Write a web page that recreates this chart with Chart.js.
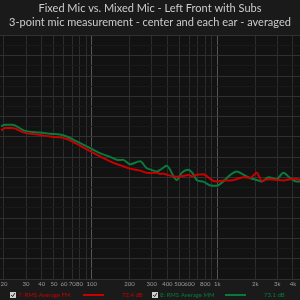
<!DOCTYPE html>
<html>
<head>
<meta charset="utf-8">
<script src="https://cdn.jsdelivr.net/npm/chart.js@4.4.1/dist/chart.umd.min.js"></script>
<style>
html, body { margin:0; padding:0; background:#1a1a1a; }
#wrap { width:300px; height:300px; }
</style>
</head>
<body>
<div id="wrap"><canvas id="fr"></canvas></div>
<script>
// frequency (Hz) and level (dB)
const freqs = [19, 20.4, 23.2, 29.4, 38.7, 46.5, 55.8, 63.2, 76, 91, 116, 140, 162, 177, 202, 242, 274, 291, 330, 350, 370, 395, 475, 521, 585, 641, 685, 769, 901, 989, 1110, 1262, 1426, 1611, 1821, 2058, 2256, 2547, 2971, 3352, 3790, 4287, 4552];
const fixedMic = [76.6, 77.2, 77.2, 76.0, 75.5, 75.1, 74.9, 74.5, 73.3, 72.0, 70.2, 69.0, 68.2, 67.8, 67.2, 66.7, 66.2, 66.1, 66.2, 65.9, 66.0, 65.7, 65.2, 65.3, 65.6, 65.3, 65.7, 65.8, 64.4, 64.0, 64.3, 64.3, 64.6, 65.1, 64.9, 66.2, 64.2, 64.6, 64.4, 64.3, 64.6, 64.7, 64.4];
const mixedMic = [77.6, 78.0, 78.0, 76.5, 76.1, 75.8, 75.6, 75.1, 73.9, 72.7, 71.0, 70.1, 69.3, 69.4, 68.3, 69.0, 67.3, 67.0, 66.5, 66.9, 67.4, 67.9, 64.4, 66.2, 66.9, 65.9, 64.4, 64.0, 63.0, 63.0, 64.0, 65.6, 66.5, 65.7, 64.9, 64.4, 64.0, 65.1, 64.6, 66.2, 64.9, 64.0, 64.0];

const gridFreqs = [20, 30, 40, 50, 60, 70, 80, 90, 100, 200, 300, 400, 500, 600, 700, 800, 900, 1000, 2000, 3000, 4000];
const tickText = {20:'20', 30:'30', 40:'40', 50:'50', 60:'60', 70:'70', 80:'80', 100:'100', 200:'200', 300:'300', 400:'400', 500:'500', 600:'600', 800:'800', 1000:'1k', 2000:'2k', 3000:'3k', 4000:'4k'};

const legendNames = ['7: RMS Average FM', '8: RMS Average MM'];
const legendLevels = ['72.4 dB', '73.1 dB'];
const lineColors = ['#c80000', '#0a7a3c'];

const frame = {
    id: 'frame',
    beforeDraw(chart){
        const {ctx, chartArea: a} = chart;
        ctx.save();
        ctx.fillStyle = '#1a1a1a';
        ctx.fillRect(0, 0, chart.width, chart.height);
        ctx.fillStyle = '#121212';
        ctx.fillRect(a.left, a.top, a.right - a.left, a.bottom - a.top);
        ctx.restore();
    },
    afterDraw(chart){
        const {ctx, chartArea: a} = chart;
        const x = chart.scales.x;
        ctx.save();
        ctx.font = '6px Lato';
        ctx.fillStyle = '#9a9a9a';
        ctx.textAlign = 'center';
        ctx.textBaseline = 'middle';
        gridFreqs.forEach(f => {
            if(tickText[f]) ctx.fillText(tickText[f], Math.max(x.getPixelForValue(f), 3), a.bottom + 5);
        });

        // legend row
        const y = 295;
        const slots = [{box: 10, text: 18, line: 83, level: 122}, {box: 152, text: 160, line: 225, level: 264}];
        slots.forEach((s, i) => {
            ctx.fillStyle = '#cfcfcf';
            ctx.fillRect(s.box, y - 3, 6, 6);
            ctx.strokeStyle = '#222';
            ctx.lineWidth = 1;
            ctx.beginPath();
            ctx.moveTo(s.box + 1.2, y);
            ctx.lineTo(s.box + 2.6, y + 1.6);
            ctx.lineTo(s.box + 4.8, y - 1.8);
            ctx.stroke();
            ctx.fillStyle = lineColors[i];
            ctx.textAlign = 'left';
            ctx.fillText(legendNames[i], s.text, y);
            ctx.fillText(legendLevels[i], s.level, y);
            ctx.strokeStyle = lineColors[i];
            ctx.lineWidth = 2;
            ctx.beginPath();
            ctx.moveTo(s.line, y);
            ctx.lineTo(s.line + 21, y);
            ctx.stroke();
        });
        ctx.restore();
    }
};

new Chart(document.getElementById('fr'), {
    type: 'line',
    data: {
        labels: freqs,
        datasets: [{
            label: legendNames[0],
            data: freqs.map((f, i) => ({x: f, y: fixedMic[i]})),
            borderColor: lineColors[0],
            borderWidth: 2,
            pointRadius: 0,
            cubicInterpolationMode: 'monotone'
        },
        {
            label: legendNames[1],
            data: freqs.map((f, i) => ({x: f, y: mixedMic[i]})),
            borderColor: lineColors[1],
            borderWidth: 2,
            pointRadius: 0,
            cubicInterpolationMode: 'monotone'
        }]
    },
    options: {
        responsive: true,
        maintainAspectRatio: false,
        animation: false,
        layout: { padding: { left: 0, right: 0, top: 0, bottom: 21 } },
        plugins: {
            legend: { display: false },
            tooltip: { enabled: false },
            title: {
                display: true,
                text: ['Fixed Mic vs. Mixed Mic - Left Front with Subs', '3-point mic measurement - center and each ear - averaged'],
                color: '#cccccc',
                font: { family: 'Lato', size: 11, weight: 'normal', lineHeight: 1.25 },
                padding: { top: 2, bottom: 6 }
            }
        },
        scales: {
            x: {
                type: 'logarithmic',
                min: 18.6,
                max: 4550,
                border: { display: false },
                afterBuildTicks: scale => { scale.ticks = gridFreqs.map(v => ({value: v})); },
                ticks: { display: false },
                grid: {
                    drawTicks: false,
                    color: c => (c.tick && (c.tick.value === 100 || c.tick.value === 1000)) ? '#555555' : '#2c2c2c'
                }
            },
            y: {
                min: 40,
                max: 100,
                border: { display: false },
                ticks: { display: false, stepSize: 2.5 },
                grid: {
                    drawTicks: false,
                    color: c => (c.tick && c.tick.value % 5 === 0) ? '#303030' : '#1a1a1a'
                }
            }
        }
    },
    plugins: [frame]
});
</script>
</body>
</html>
